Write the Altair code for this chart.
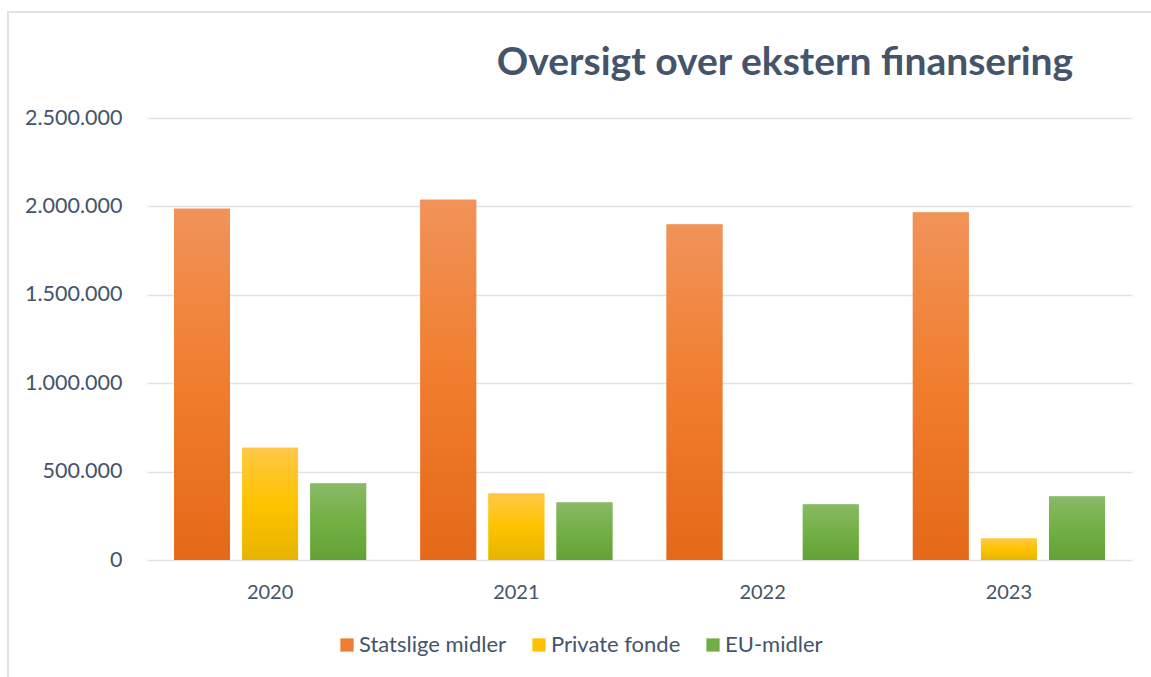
import altair as alt
import pandas as pd

years = ["2020", "2021", "2022", "2023"]
series = ["Statslige midler", "Private fonde", "EU-midler"]
statslige = [1987000, 2038000, 1897000, 1965000]
private = [635000, 376000, 0, 122000]
eu = [432000, 325000, 314000, 359000]
title_text = "Oversigt over ekstern finansering"

solid_colors = ["#ED7D31", "#FFC000", "#70AD47"]
gradients = {
    "Statslige midler": ["#F19359", "#F07D2D", "#E46918"],
    "Private fonde": ["#FFC847", "#FFC300", "#E6B400"],
    "EU-midler": ["#89B966", "#72B043", "#62A235"],
}

rows = []
for i, y in enumerate(years):
    rows.append({"year": y, "series": series[0], "value": statslige[i]})
    rows.append({"year": y, "series": series[1], "value": private[i]})
    rows.append({"year": y, "series": series[2], "value": eu[i]})
df = pd.DataFrame(rows)

TEXT = "#44546A"
FONT = "Lato"

x_enc = alt.X("year:N", sort=years, title=None,
              scale=alt.Scale(paddingInner=0.22, paddingOuter=0.11),
              axis=alt.Axis(labelAngle=0, labelFontSize=20, labelColor=TEXT, labelFont=FONT,
                            domain=False, ticks=False, labelPadding=22, grid=False))
y_enc = alt.Y("value:Q", title=None,
              scale=alt.Scale(domain=[0, 2500000], nice=False),
              axis=alt.Axis(values=[0, 500000, 1000000, 1500000, 2000000, 2500000],
                            labelExpr="replace(replace(format(datum.value, ','), ',', '.'), ',', '.')",
                            labelFontSize=21.5, labelColor=TEXT, labelFont=FONT,
                            domain=False, ticks=False, labelPadding=25,
                            gridColor="#DEE2E8", gridWidth=1.6))
xo_enc = alt.XOffset("series:N", sort=series,
                     scale=alt.Scale(domain=series, paddingInner=0.18, paddingOuter=0))

base = alt.Chart(df).mark_bar().encode(
    x=x_enc, y=y_enc, xOffset=xo_enc,
    color=alt.Color("series:N", sort=series,
                    scale=alt.Scale(domain=series, range=solid_colors),
                    legend=alt.Legend(title=None, orient="none", direction="horizontal",
                                      legendX=189, legendY=516,
                                      symbolType="square", symbolSize=175, symbolStrokeWidth=0,
                                      labelFontSize=22, labelColor=TEXT, labelFont=FONT,
                                      columnPadding=21, symbolOffset=0, labelOffset=1)),
)

layers = [base]
for s in series:
    st = gradients[s]
    grad = alt.Gradient(gradient="linear", x1=0, y1=0, x2=0, y2=1,
                        stops=[alt.GradientStop(color=st[0], offset=0),
                               alt.GradientStop(color=st[1], offset=0.5),
                               alt.GradientStop(color=st[2], offset=1)])
    layers.append(
        alt.Chart(df).transform_filter(alt.datum.series == s).mark_bar(fill=grad).encode(
            x=x_enc, y=y_enc, xOffset=xo_enc)
    )

frame = alt.Chart(pd.DataFrame({"a": [0]})).mark_rect(
    fill=None, stroke="#DEE2E8", strokeWidth=2).encode(
    x=alt.value(-139), y=alt.value(-106), x2=alt.value(1030), y2=alt.value(580))

title = alt.Chart(pd.DataFrame({"t": [title_text]})).mark_text(
    font=FONT, fontSize=39, fontWeight="bold", color=TEXT, align="center", baseline="alphabetic"
).encode(text="t:N", x=alt.value(638), y=alt.value(-43))

chart = alt.layer(frame, *layers, title).properties(
    width=985, height=442,
    background="white",
    autosize=alt.AutoSizeParams(type="none"),
    padding={"left": 147, "top": 118, "right": 19, "bottom": 117},
).configure_view(stroke=None)

chart.save("out.html", embed_options={"renderer": "svg", "actions": False})
